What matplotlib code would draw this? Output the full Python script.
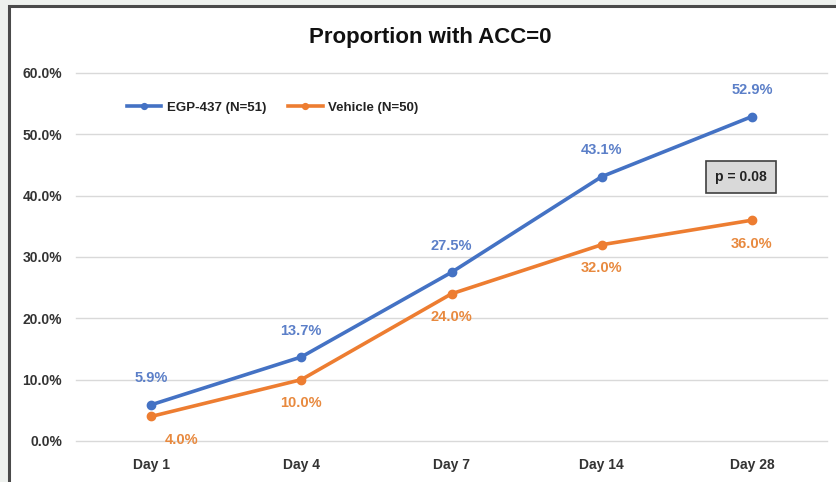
import matplotlib.pyplot as plt
from matplotlib.patches import Rectangle

# Proportion of subjects with ACC=0 over time
days = ['Day 1', 'Day 4', 'Day 7', 'Day 14', 'Day 28']
egp437 = [5.9, 13.7, 27.5, 43.1, 52.9]
vehicle = [4.0, 10.0, 24.0, 32.0, 36.0]
yticks = [0, 10, 20, 30, 40, 50, 60]

BLUE = '#4472C4'
ORANGE = '#ED7D31'

plt.rcParams['font.family'] = ['Liberation Sans Narrow', 'Liberation Sans', 'DejaVu Sans']

W, H = 836, 482
fig = plt.figure(figsize=(W / 100, H / 100), dpi=100, facecolor='#eef1ee')

# white chart area with dark frame on the left and top
fig.patches.append(Rectangle((8.5 / W, -0.1), 1.2, 1 - 5.5 / H + 0.1,
                             transform=fig.transFigure, facecolor='white',
                             edgecolor='#4a4a4a', linewidth=2.2, zorder=-5))

ax = fig.add_axes([76 / W, 1 - 441 / H, (827 - 76) / W, (441 - 73) / H])
ax.set_facecolor('none')

x = list(range(len(days)))
ax.plot(x, egp437, color=BLUE, lw=2.6, marker='o', ms=6, label='EGP-437 (N=51)', zorder=3)
ax.plot(x, vehicle, color=ORANGE, lw=2.6, marker='o', ms=6, label='Vehicle (N=50)', zorder=3)

ax.set_xlim(-0.5, len(days) - 0.5)
ax.set_ylim(0, 60)
ax.set_yticks(yticks)
ax.set_yticklabels([f'{v:.1f}%' for v in yticks])
ax.set_xticks(x)
ax.set_xticklabels(days)
ax.tick_params(length=0, labelsize=10, colors='#333333', pad=12)
ax.tick_params(axis='y', pad=10)
for lbl in ax.get_xticklabels() + ax.get_yticklabels():
    lbl.set_fontweight('bold')
ax.grid(axis='y', color='#d9d9d9', lw=1, clip_on=False)
ax.set_axisbelow(True)
for s in ax.spines.values():
    s.set_visible(False)

# data labels: blue above, orange below
for i, v in enumerate(egp437):
    ax.annotate(f'{v:.1f}%', (i, v), xytext=(0, 14), textcoords='offset points',
                ha='center', va='bottom', color='#5b7fc8', fontsize=10.5, fontweight='bold')
for i, v in enumerate(vehicle):
    dx = 22 if i == 0 else 0
    ax.annotate(f'{v:.1f}%', (i, v), xytext=(dx, -12), textcoords='offset points',
                ha='center', va='top', color='#e8893e', fontsize=10.5, fontweight='bold')

leg = ax.legend(loc='upper left', bbox_to_anchor=(0.052, 0.955), ncol=2, frameon=False,
                fontsize=9.5, handlelength=2.6, handletextpad=0.4, columnspacing=1.7,
                markerscale=0.7)
for t in leg.get_texts():
    t.set_fontweight('bold')
    t.set_color('#222222')

ax.text(741 / W, 1 - 177 / H, 'p = 0.08', transform=fig.transFigure, ha='center', va='center',
        fontsize=10, fontweight='bold', color='#222222',
        bbox=dict(boxstyle='square,pad=0.65', facecolor='#d9d9d9', edgecolor='#404040', lw=1.2))

fig.text(430 / W, 1 - 37 / H, 'Proportion with ACC=0', ha='center', va='center',
         fontsize=16, fontweight='bold', color='#111111')

fig.savefig('out.png', dpi=100, facecolor=fig.get_facecolor())
